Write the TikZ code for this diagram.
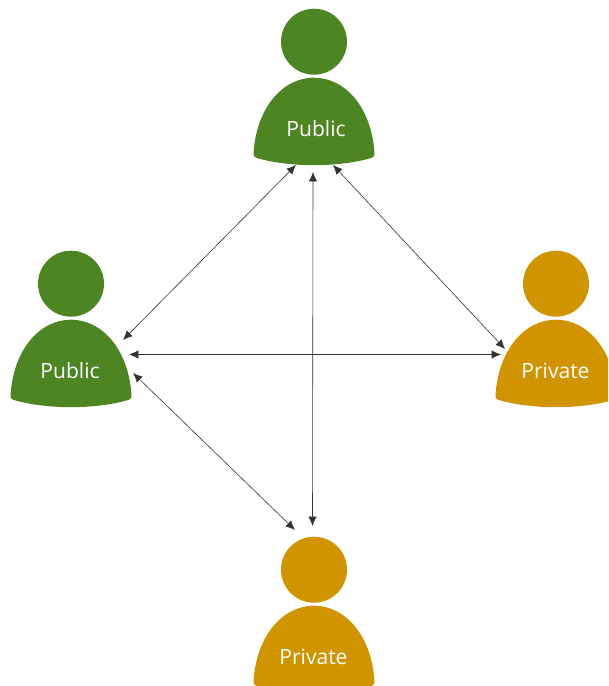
\documentclass[tikz,border=0pt]{standalone}
\usepackage{fontspec}
\setmainfont{Open Sans}
\usepackage{xcolor}
\usetikzlibrary{arrows.meta}
\definecolor{pubgreen}{RGB}{78,133,35}
\definecolor{privorange}{RGB}{208,148,0}
\tikzset{
    personhead/.style={circle,fill=#1,draw=none,minimum size=49.5pt,inner sep=0},
    personbody/.style={fill=#1,draw=none},
    personlabel/.style={text=white,font=\fontsize{15.8pt}{18pt}\selectfont},
    linkarrow/.style={{Latex[length=7pt,width=6.2pt]}-{Latex[length=7pt,width=6.2pt]},line width=0.45pt,draw=black!80},
}
% #1 name, #2 x, #3 y of the head centre, #4 colour, #5 text x, #6 text
\newcommand{\person}[6]{
    \node[personhead=#4] (#1head) at (#2,#3) {};
    \fill[personbody=#4,shift={(#2,#3)}] (-60.5,112) .. controls (-58,67) and (-32,36) .. (0,36)
        .. controls (32,36) and (58,67) .. (60.5,112)
        .. controls (60.5,114) and (60,115) .. (58,116)
        .. controls (42,121) and (20,123.5) .. (0,123.5)
        .. controls (-20,123.5) and (-42,121) .. (-58,116)
        .. controls (-60,115) and (-60.5,114) .. cycle;
    \node[personlabel] (#1) at (#5,#3+87.3) {#6};
}
\begin{document}
\begin{tikzpicture}[x=0.75pt,y=-0.75pt]
    \clip (0,0) rectangle (608,686);
    \useasboundingbox (0,0) rectangle (608,686);

    % People
    \person{pubtop}{314}{41.7}{pubgreen}{316}{Public}
    \person{publeft}{71}{283.7}{pubgreen}{70}{Public}
    \person{privright}{556}{283.7}{privorange}{555.5}{Private}
    \person{privbottom}{314}{569.7}{privorange}{313.5}{Private}

    % Arrow ends
    \coordinate (topsw) at (296,165);
    \coordinate (tops) at (313,172);
    \coordinate (topse) at (333,165);
    \coordinate (leftne) at (123,340);
    \coordinate (lefte) at (129,354.5);
    \coordinate (leftse) at (133,373);
    \coordinate (rightnw) at (505,349);
    \coordinate (rightw) at (501,354.5);
    \coordinate (bottomnw) at (295,530);
    \coordinate (bottomn) at (312.5,526);

    % Links
    \draw[linkarrow] (topsw) -- (leftne);
    \draw[linkarrow] (tops) -- (bottomn);
    \draw[linkarrow] (topse) -- (rightnw);
    \draw[linkarrow] (lefte) -- (rightw);
    \draw[linkarrow] (leftse) -- (bottomnw);
\end{tikzpicture}
\end{document}
